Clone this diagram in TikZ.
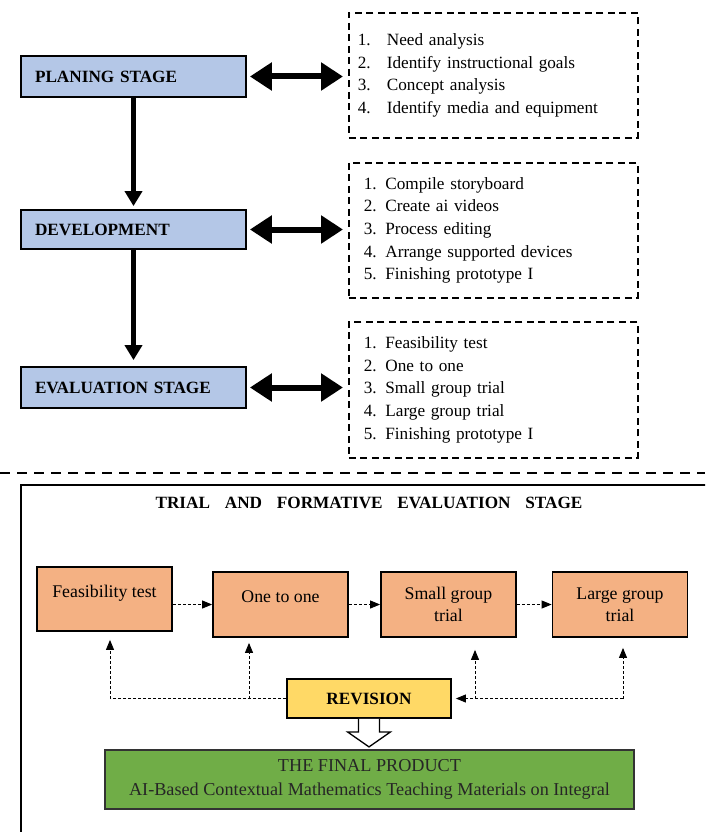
\documentclass[tikz,border=0pt]{standalone}
\usepackage{fontspec}
\setmainfont{Liberation Serif}
\usetikzlibrary{arrows.meta}
\definecolor{stageblue}{HTML}{B4C7E7}
\definecolor{trialorange}{HTML}{F4B183}
\definecolor{revyellow}{HTML}{FFD966}
\definecolor{prodgreen}{HTML}{70AD47}
\begin{document}
\begin{tikzpicture}[x=1pt,y=-1pt,
  stagebox/.style={draw=black, line width=1.8pt, fill=stageblue, minimum width=225pt, minimum height=41pt, text width=197pt, inner xsep=14pt, align=left, font=\fontsize{17.2}{20}\selectfont\bfseries},
  listbox/.style={draw=black, line width=1.7pt, dash pattern=on 7pt off 4.5pt, minimum width=289pt, align=left, anchor=north west, font=\fontsize{17.2}{22.7}\selectfont},
  bigarrow/.style={line width=6pt, {Triangle[width=27pt,length=22pt]}-{Triangle[width=27pt,length=22pt]}},
  downarrow/.style={line width=4.3pt, -{Triangle[width=17pt,length=15pt]}},
  trialbox/.style={draw=black, line width=1.8pt, fill=trialorange, minimum width=135pt, minimum height=65pt, align=center, font=\fontsize{17.8}{22}\selectfont},
  onelinetrial/.style={text height=10pt, text depth=14pt},
  smalldash/.style={line width=0.9pt, dash pattern=on 3pt off 2pt},
  smallhead/.style={-{Triangle[width=8pt,length=10pt]}},
  hollowarrow/.style={line width=1.3pt, fill=white, line join=miter},
]
\useasboundingbox (0,0) rectangle (705,832);

% ---- upper part ----
\node[stagebox] (plan) at (133.5,76.5) {PLANING STAGE};
\node[stagebox, minimum height=39pt] (dev) at (133.5,229.5) {DEVELOPMENT};
\node[stagebox] (eval) at (133.5,387.5) {EVALUATION STAGE};

\node[listbox, minimum height=125pt, text width=271pt, inner xsep=9pt] (list1) at (348,12)
  {\makebox[29pt][l]{1.}Need analysis\\
   \makebox[29pt][l]{2.}Identify instructional goals\\
   \makebox[29pt][l]{3.}Concept analysis\\
   \makebox[29pt][l]{4.}Identify media and equipment};
\node[listbox, minimum height=135pt, text width=259pt, inner xsep=15pt] (list2) at (348,162)
  {1. Compile storyboard\\
   2. Create ai videos\\
   3. Process editing\\
   4. Arrange supported devices\\
   5. Finishing prototype I};
\node[listbox, minimum height=136pt, text width=259pt, inner xsep=15pt] (list3) at (348,321)
  {1. Feasibility test\\
   2. One to one\\
   3. Small group trial\\
   4. Large group trial\\
   5. Finishing prototype I};

\draw[bigarrow, shorten <=3pt, shorten >=5pt] (plan.east) -- (plan.east -| list1.west);
\draw[bigarrow, shorten <=3pt, shorten >=5pt] (dev.east) -- (dev.east -| list2.west);
\draw[bigarrow, shorten <=3pt, shorten >=5pt] (eval.east) -- (eval.east -| list3.west);

\draw[downarrow, shorten >=3pt] (plan.south) -- (dev.north);
\draw[downarrow, shorten >=6pt] (dev.south) -- (eval.north);

% ---- separator ----
\draw[line width=1.8pt, dash pattern=on 10pt off 7pt] (0,473) -- (705,473);

% ---- lower frame (cut off by the page edge) ----
\begin{scope}
  \clip (0,0) rectangle (705,832);
  \draw[line width=1.8pt] (21,485) rectangle (730,860);
\end{scope}

\node[font=\fontsize{17.2}{20}\selectfont\bfseries] (title) at (369,503)
  {TRIAL\hspace{10.5pt} AND\hspace{10.5pt} FORMATIVE\hspace{10.5pt} EVALUATION\hspace{10.5pt} STAGE};

\node[trialbox, minimum height=64pt, onelinetrial] (t1) at (104.5,599) {Feasibility test};
\node[trialbox, onelinetrial] (t2) at (280.5,604.5) {One to one};
\node[trialbox] (t3) at (448.5,604.5) {Small group\\trial};
\node[trialbox] (t4) at (620,604.5) {Large group\\trial};

\draw[smalldash, smallhead] (t1.east |- t2.west) -- (t2.west);
\draw[smalldash, smallhead] (t2.east) -- (t3.west);
\draw[smalldash, smallhead] (t3.east) -- (t4.west);

\node[draw=black, line width=1.8pt, fill=revyellow, minimum width=164pt, minimum height=39pt,
      font=\fontsize{17.2}{20}\selectfont\bfseries] (rev) at (369,698.5) {REVISION};

\coordinate (fl1) at (110,698.5);
\coordinate (fl2) at (249,698.5);
\coordinate (fr1) at (475,698.5);
\coordinate (fr2) at (623,698.5);
\draw[smalldash] (rev.west) -- (fl1);
\draw[smalldash, smallhead, shorten >=8pt] (fl1) -- (fl1 |- t1.south);
\draw[smalldash, smallhead, shorten >=5pt] (fl2) -- (fl2 |- t2.south);
\draw[smalldash, smallhead, shorten >=4pt] (fr2) -- (rev.east);
\draw[smalldash, smallhead, shorten >=12pt] (fr1) -- (fr1 |- t3.south);
\draw[smalldash, smallhead, shorten >=10pt] (fr2) -- (fr2 |- t4.south);

\node[draw=black!80, line width=1.8pt, fill=prodgreen, minimum width=529pt, minimum height=59pt,
      align=center, text=black!85, font=\fontsize{18.2}{24}\selectfont] (final) at (369.5,779.5)
  {THE FINAL PRODUCT\\AI-Based Contextual Mathematics Teaching Materials on Integral};

\draw[hollowarrow] ([xshift=-10.5pt]rev.south) -- ++(0,13) -- ++(-11,0) -- ++(21.5,15)
  -- ++(21.5,-15) -- ++(-11,0) -- ++(0,-13);
\end{tikzpicture}
\end{document}
